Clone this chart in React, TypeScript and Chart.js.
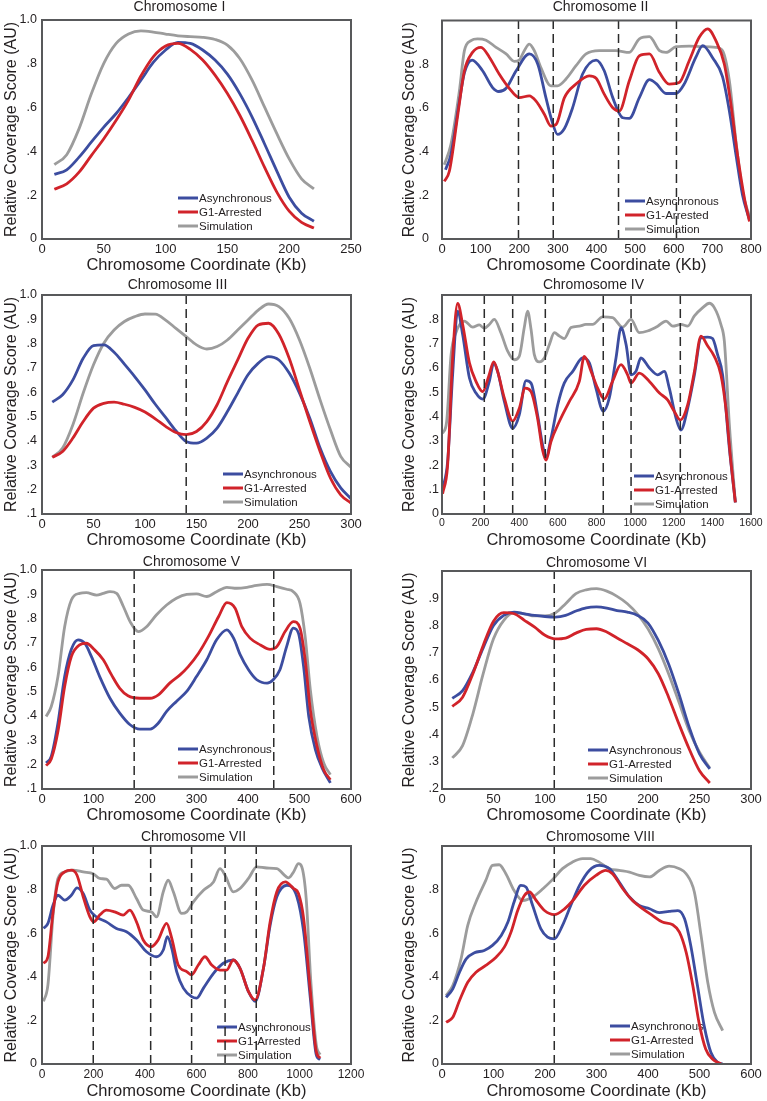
import React, { useEffect, useRef } from "react";
import { Chart, registerables } from "chart.js";

Chart.register(...registerables);
Chart.defaults.font.family = "'Liberation Sans', Arial, sans-serif";

// ---------- DATA ----------
const SERIES_LABELS = ["Asynchronous", "G1-Arrested", "Simulation"];
const X_TITLE = "Chromosome Coordinate (Kb)";
const Y_TITLE = "Relative Coverage Score (AU)";
const TITLES = ["Chromosome I", "Chromosome II", "Chromosome III", "Chromosome IV", "Chromosome V", "Chromosome VI", "Chromosome VII", "Chromosome VIII"];

// Chromosome I (x = 10..220 step 10)
const chr1X = [10, 20, 30, 40, 50, 60, 70, 80, 90, 100, 110, 120, 130, 140, 150, 160, 170, 180, 190, 200, 210, 220];
const chr1Async = [0.295, 0.316, 0.374, 0.443, 0.511, 0.573, 0.646, 0.725, 0.806, 0.863, 0.898, 0.893, 0.863, 0.817, 0.753, 0.664, 0.557, 0.435, 0.31, 0.191, 0.118, 0.081];
const chr1G1 = [0.227, 0.252, 0.305, 0.382, 0.458, 0.542, 0.634, 0.744, 0.832, 0.881, 0.893, 0.866, 0.817, 0.748, 0.664, 0.565, 0.45, 0.328, 0.214, 0.127, 0.076, 0.05];
const chr1Sim = [0.34, 0.385, 0.504, 0.664, 0.802, 0.893, 0.936, 0.95, 0.945, 0.936, 0.928, 0.924, 0.921, 0.911, 0.885, 0.824, 0.725, 0.603, 0.481, 0.366, 0.275, 0.229];
const chr1Dashes: number[] = [];

// Chromosome II ([kb, score])
const chr2Async = [[9, 0.317], [23, 0.386], [45, 0.63], [58, 0.76], [78, 0.819], [105, 0.77], [131, 0.693], [147, 0.675], [166, 0.69], [192, 0.77], [226, 0.847], [248, 0.8], [269, 0.647], [286, 0.532], [299, 0.479], [317, 0.506], [338, 0.6], [364, 0.755], [399, 0.819], [420, 0.77], [442, 0.647], [468, 0.555], [485, 0.552], [511, 0.647], [537, 0.729], [554, 0.712], [580, 0.666], [606, 0.666], [627, 0.709], [657, 0.831], [675, 0.885], [701, 0.828], [726, 0.744], [744, 0.586], [761, 0.387], [778, 0.202], [796, 0.087]];
const chr2G1 = [[6, 0.264], [19, 0.31], [41, 0.57], [58, 0.77], [79, 0.854], [101, 0.877], [123, 0.831], [148, 0.755], [174, 0.69], [200, 0.647], [226, 0.655], [243, 0.632], [265, 0.571], [282, 0.517], [295, 0.523], [317, 0.647], [347, 0.709], [381, 0.747], [399, 0.736], [420, 0.663], [442, 0.601], [459, 0.586], [485, 0.724], [511, 0.839], [537, 0.847], [563, 0.762], [588, 0.709], [614, 0.716], [640, 0.816], [666, 0.923], [688, 0.962], [709, 0.908], [731, 0.8], [748, 0.617], [765, 0.387], [783, 0.187], [796, 0.08]];
const chr2Sim = [[6, 0.34], [23, 0.432], [45, 0.678], [58, 0.862], [75, 0.908], [92, 0.916], [114, 0.91], [140, 0.877], [166, 0.847], [187, 0.813], [200, 0.819], [213, 0.862], [226, 0.892], [239, 0.862], [256, 0.785], [282, 0.701], [299, 0.701], [321, 0.732], [347, 0.793], [373, 0.847], [407, 0.862], [450, 0.862], [485, 0.854], [511, 0.916], [537, 0.926], [563, 0.862], [580, 0.854], [606, 0.88], [640, 0.883], [674, 0.88], [709, 0.877], [726, 0.862], [744, 0.724], [761, 0.448], [778, 0.218], [796, 0.103]];
const chr2Dashes = [198, 288, 457, 607];

// Chromosome III (x = 10..300 step 10)
const chr3X = [10, 20, 30, 40, 50, 60, 70, 80, 90, 100, 110, 120, 130, 140, 150, 160, 170, 180, 190, 200, 210, 220, 230, 240, 250, 260, 270, 280, 290, 300];
const chr3Async = [0.56, 0.59, 0.651, 0.74, 0.792, 0.795, 0.765, 0.716, 0.665, 0.61, 0.551, 0.497, 0.442, 0.398, 0.391, 0.412, 0.453, 0.521, 0.597, 0.672, 0.72, 0.747, 0.733, 0.679, 0.597, 0.494, 0.371, 0.275, 0.207, 0.163];
const chr3G1 = [0.333, 0.357, 0.412, 0.48, 0.535, 0.555, 0.56, 0.551, 0.538, 0.519, 0.491, 0.46, 0.435, 0.426, 0.439, 0.48, 0.549, 0.644, 0.733, 0.822, 0.877, 0.884, 0.839, 0.74, 0.61, 0.48, 0.357, 0.248, 0.179, 0.145];
const chr3Sim = [0.333, 0.371, 0.467, 0.597, 0.713, 0.802, 0.856, 0.891, 0.911, 0.922, 0.921, 0.897, 0.863, 0.829, 0.795, 0.778, 0.788, 0.815, 0.856, 0.897, 0.938, 0.963, 0.952, 0.904, 0.815, 0.699, 0.569, 0.446, 0.337, 0.292];
const chr3Dashes = [140];

// Chromosome IV ([kb, score])
const chr4Async = [[3, 0.103], [29, 0.214], [55, 0.572], [81, 0.834], [107, 0.738], [142, 0.559], [176, 0.497], [211, 0.472], [245, 0.545], [268, 0.621], [288, 0.586], [323, 0.462], [366, 0.352], [400, 0.407], [435, 0.548], [461, 0.538], [495, 0.407], [521, 0.283], [539, 0.234], [564, 0.31], [599, 0.448], [633, 0.538], [677, 0.586], [728, 0.641], [763, 0.621], [797, 0.517], [835, 0.423], [866, 0.476], [901, 0.641], [927, 0.766], [953, 0.697], [979, 0.572], [1004, 0.586], [1030, 0.641], [1074, 0.6], [1117, 0.572], [1151, 0.586], [1177, 0.517], [1212, 0.393], [1237, 0.345], [1272, 0.434], [1307, 0.572], [1341, 0.724], [1376, 0.727], [1401, 0.721], [1427, 0.655], [1453, 0.572], [1488, 0.269], [1519, 0.048]];
const chr4G1 = [[3, 0.083], [29, 0.2], [55, 0.641], [81, 0.865], [107, 0.779], [142, 0.621], [176, 0.545], [211, 0.503], [242, 0.566], [268, 0.625], [288, 0.586], [323, 0.476], [366, 0.382], [400, 0.434], [431, 0.517], [461, 0.503], [495, 0.393], [521, 0.262], [539, 0.221], [564, 0.297], [607, 0.379], [659, 0.462], [711, 0.545], [737, 0.648], [772, 0.586], [806, 0.517], [840, 0.473], [883, 0.545], [927, 0.614], [961, 0.572], [979, 0.538], [1021, 0.579], [1074, 0.545], [1126, 0.497], [1168, 0.469], [1203, 0.421], [1234, 0.386], [1272, 0.448], [1307, 0.586], [1341, 0.731], [1376, 0.69], [1410, 0.648], [1444, 0.572], [1470, 0.434], [1496, 0.214], [1519, 0.048]];
const chr4Sim = [[3, 0.331], [24, 0.379], [47, 0.655], [72, 0.745], [116, 0.793], [159, 0.768], [193, 0.777], [219, 0.763], [245, 0.779], [271, 0.8], [305, 0.745], [340, 0.669], [374, 0.634], [400, 0.648], [426, 0.766], [443, 0.834], [461, 0.759], [478, 0.655], [504, 0.625], [530, 0.641], [556, 0.697], [582, 0.745], [608, 0.731], [633, 0.721], [668, 0.766], [711, 0.772], [745, 0.779], [780, 0.779], [832, 0.81], [883, 0.807], [935, 0.768], [979, 0.8], [1021, 0.745], [1064, 0.752], [1117, 0.772], [1160, 0.793], [1195, 0.772], [1237, 0.779], [1272, 0.772], [1307, 0.814], [1350, 0.848], [1384, 0.866], [1410, 0.848], [1444, 0.779], [1462, 0.71], [1488, 0.366], [1519, 0.048]];
const chr4Dashes = [219, 366, 535, 835, 979, 1234];

// Chromosome V ([kb, score])
const chr5Async = [[8, 0.207], [18, 0.234], [31, 0.371], [44, 0.562], [57, 0.674], [70, 0.713], [83, 0.699], [96, 0.644], [112, 0.562], [132, 0.473], [151, 0.412], [171, 0.364], [190, 0.346], [210, 0.346], [226, 0.371], [242, 0.419], [261, 0.46], [281, 0.501], [300, 0.562], [320, 0.631], [339, 0.713], [359, 0.754], [372, 0.72], [385, 0.651], [401, 0.59], [417, 0.549], [437, 0.535], [449, 0.549], [462, 0.59], [475, 0.685], [488, 0.761], [498, 0.74], [508, 0.603], [518, 0.398], [531, 0.261], [544, 0.186], [560, 0.125]];
const chr5G1 = [[8, 0.196], [18, 0.223], [31, 0.337], [44, 0.521], [57, 0.644], [73, 0.692], [86, 0.699], [102, 0.672], [119, 0.631], [135, 0.569], [151, 0.514], [167, 0.483], [190, 0.473], [210, 0.473], [226, 0.487], [248, 0.535], [268, 0.569], [284, 0.603], [304, 0.658], [323, 0.726], [343, 0.809], [359, 0.866], [375, 0.843], [388, 0.767], [404, 0.72], [424, 0.692], [443, 0.674], [456, 0.685], [472, 0.747], [488, 0.788], [501, 0.761], [511, 0.631], [521, 0.426], [534, 0.275], [547, 0.179], [560, 0.138]];
const chr5Sim = [[8, 0.398], [18, 0.439], [31, 0.562], [44, 0.767], [57, 0.877], [73, 0.904], [86, 0.907], [106, 0.897], [119, 0.904], [132, 0.911], [145, 0.904], [158, 0.85], [171, 0.788], [187, 0.747], [203, 0.767], [222, 0.815], [242, 0.856], [261, 0.884], [281, 0.9], [300, 0.902], [320, 0.891], [339, 0.911], [359, 0.929], [378, 0.925], [398, 0.929], [417, 0.937], [437, 0.941], [456, 0.932], [475, 0.921], [488, 0.911], [501, 0.863], [511, 0.726], [521, 0.508], [534, 0.316], [547, 0.207], [560, 0.159]];
const chr5Dashes = [179, 450];

// Chromosome VI (x = 10..260 step 10)
const chr6X = [10, 20, 30, 40, 50, 60, 70, 80, 90, 100, 110, 120, 130, 140, 150, 160, 170, 180, 190, 200, 210, 220, 230, 240, 250, 260];
const chr6Async = [0.533, 0.561, 0.629, 0.718, 0.8, 0.837, 0.849, 0.843, 0.837, 0.833, 0.831, 0.837, 0.853, 0.865, 0.868, 0.864, 0.855, 0.849, 0.837, 0.809, 0.745, 0.659, 0.549, 0.427, 0.329, 0.274];
const chr6G1 = [0.503, 0.537, 0.623, 0.727, 0.816, 0.847, 0.843, 0.819, 0.794, 0.764, 0.751, 0.754, 0.772, 0.786, 0.788, 0.776, 0.754, 0.733, 0.711, 0.678, 0.623, 0.537, 0.439, 0.347, 0.267, 0.222];
const chr6Sim = [0.314, 0.359, 0.476, 0.623, 0.751, 0.819, 0.847, 0.843, 0.835, 0.835, 0.846, 0.88, 0.917, 0.931, 0.935, 0.926, 0.907, 0.88, 0.841, 0.788, 0.715, 0.623, 0.519, 0.414, 0.335, 0.277];
const chr6Dashes = [109];

// Chromosome VII ([kb, score])
const chr7Async = [[6, 0.622], [23, 0.645], [43, 0.729], [62, 0.774], [88, 0.752], [114, 0.774], [136, 0.808], [160, 0.782], [186, 0.706], [211, 0.675], [250, 0.652], [289, 0.622], [328, 0.607], [367, 0.569], [406, 0.515], [445, 0.492], [471, 0.523], [487, 0.584], [504, 0.53], [523, 0.424], [549, 0.348], [581, 0.309], [601, 0.302], [627, 0.348], [666, 0.416], [704, 0.462], [743, 0.477], [769, 0.439], [802, 0.332], [828, 0.287], [860, 0.439], [886, 0.637], [912, 0.767], [951, 0.82], [990, 0.767], [1016, 0.607], [1042, 0.302], [1065, 0.043], [1080, 0.02]];
const chr7G1 = [[6, 0.462], [23, 0.492], [43, 0.698], [62, 0.835], [88, 0.881], [114, 0.889], [136, 0.866], [160, 0.767], [186, 0.675], [201, 0.652], [224, 0.683], [250, 0.706], [282, 0.698], [315, 0.683], [341, 0.706], [367, 0.652], [393, 0.569], [425, 0.538], [451, 0.569], [484, 0.645], [504, 0.576], [529, 0.454], [562, 0.424], [581, 0.409], [607, 0.454], [633, 0.492], [659, 0.454], [691, 0.431], [717, 0.431], [743, 0.477], [769, 0.439], [802, 0.332], [828, 0.294], [860, 0.439], [886, 0.652], [912, 0.79], [945, 0.835], [977, 0.805], [996, 0.782], [1016, 0.668], [1042, 0.335], [1065, 0.058], [1080, 0.027]];
const chr7Sim = [[6, 0.287], [23, 0.363], [43, 0.683], [62, 0.851], [88, 0.881], [120, 0.889], [160, 0.881], [199, 0.873], [224, 0.851], [250, 0.848], [282, 0.805], [309, 0.82], [335, 0.82], [367, 0.759], [393, 0.706], [425, 0.698], [445, 0.675], [471, 0.79], [490, 0.843], [510, 0.79], [542, 0.691], [562, 0.698], [588, 0.744], [627, 0.797], [666, 0.835], [691, 0.896], [711, 0.866], [743, 0.79], [769, 0.805], [802, 0.851], [834, 0.904], [873, 0.899], [912, 0.896], [958, 0.854], [977, 0.881], [996, 0.919], [1009, 0.904], [1026, 0.759], [1044, 0.378], [1065, 0.088], [1080, 0.043]];
const chr7Dashes = [199, 422, 581, 711, 832];

// Chromosome VIII ([kb, score])
const chr8Async = [[8, 0.306], [21, 0.345], [34, 0.421], [47, 0.482], [63, 0.51], [82, 0.521], [98, 0.544], [115, 0.59], [128, 0.651], [140, 0.743], [153, 0.819], [163, 0.812], [176, 0.727], [192, 0.62], [205, 0.582], [218, 0.574], [234, 0.636], [250, 0.727], [267, 0.819], [286, 0.888], [305, 0.911], [325, 0.896], [344, 0.835], [364, 0.766], [383, 0.727], [403, 0.712], [422, 0.694], [441, 0.7], [458, 0.704], [471, 0.666], [483, 0.544], [496, 0.36], [509, 0.176], [522, 0.054], [535, 0.008], [545, 0]];
const chr8G1 = [[8, 0.191], [21, 0.214], [34, 0.291], [50, 0.375], [66, 0.421], [85, 0.452], [105, 0.49], [121, 0.536], [134, 0.605], [147, 0.704], [160, 0.773], [170, 0.789], [183, 0.75], [199, 0.704], [218, 0.685], [238, 0.712], [257, 0.758], [276, 0.819], [299, 0.865], [318, 0.888], [331, 0.873], [351, 0.804], [370, 0.75], [390, 0.712], [409, 0.681], [428, 0.651], [448, 0.639], [461, 0.605], [474, 0.513], [487, 0.36], [499, 0.191], [512, 0.069], [525, 0.023], [542, 0]];
const chr8Sim = [[8, 0.314], [21, 0.36], [37, 0.482], [50, 0.636], [66, 0.743], [85, 0.842], [98, 0.911], [111, 0.914], [124, 0.873], [140, 0.796], [157, 0.75], [176, 0.766], [196, 0.804], [215, 0.847], [234, 0.896], [253, 0.926], [273, 0.942], [289, 0.942], [305, 0.926], [325, 0.896], [344, 0.888], [364, 0.88], [383, 0.865], [403, 0.858], [422, 0.888], [441, 0.908], [461, 0.896], [474, 0.873], [490, 0.789], [503, 0.59], [516, 0.375], [529, 0.237], [545, 0.153]];
const chr8Dashes = [218];

// Axis ticks
const xTicks1 = [0, 50, 100, 150, 200, 250];
const xTicks2 = [0, 100, 200, 300, 400, 500, 600, 700, 800];
const xTicks3 = [0, 50, 100, 150, 200, 250, 300];
const xTicks4 = [0, 200, 400, 600, 800, 1000, 1200, 1400, 1600];
const xTicks5 = [0, 100, 200, 300, 400, 500, 600];
const xTicks6 = [0, 50, 100, 150, 200, 250, 300];
const xTicks7 = [0, 200, 400, 600, 800, 1000, 1200];
const xTicks8 = [0, 100, 200, 300, 400, 500, 600];

const yTicks1 = [0, 0.2, 0.4, 0.6, 0.8, 1.0];
const yLabels1 = ["0", ".2", ".4", ".6", ".8", "1.0"];
const yTicks2 = [0, 0.2, 0.4, 0.6, 0.8];
const yLabels2 = ["0", ".2", ".4", ".6", ".8"];
const yTicks3 = [0.1, 0.2, 0.3, 0.4, 0.5, 0.6, 0.7, 0.8, 0.9, 1.0];
const yLabels3 = [".1", ".2", ".3", ".4", ".5", ".6", ".7", ".8", ".9", "1.0"];
const yTicks4 = [0, 0.1, 0.2, 0.3, 0.4, 0.5, 0.6, 0.7, 0.8];
const yLabels4 = ["0", ".1", ".2", ".3", ".4", ".5", ".6", ".7", ".8"];
const yTicks6 = [0.2, 0.3, 0.4, 0.5, 0.6, 0.7, 0.8, 0.9];
const yLabels6 = [".2", ".3", ".4", ".5", ".6", ".7", ".8", ".9"];

const xMaxes = [250, 800, 300, 1600, 600, 300, 1200, 600];
const yRanges = [[0, 1], [0, 1], [0.1, 1], [0, 0.9], [0.1, 1], [0.2, 1], [0, 1], [0, 1]];

// ---------- STYLE / LAYOUT ----------
const COLORS = ["#3c4da0", "#d1232a", "#9c9c9c"];
const TEXT = "#231f20";
const FRAME = "#58595b";

const zip = (xs: number[], ys: number[]) => xs.map((x, i) => [x, ys[i]]);

const PANELS = [
  { series: [zip(chr1X, chr1Async), zip(chr1X, chr1G1), zip(chr1X, chr1Sim)], dashes: chr1Dashes, xTicks: xTicks1, yTicks: yTicks1, yLabels: yLabels1 },
  { series: [chr2Async, chr2G1, chr2Sim], dashes: chr2Dashes, xTicks: xTicks2, yTicks: yTicks2, yLabels: yLabels2 },
  { series: [zip(chr3X, chr3Async), zip(chr3X, chr3G1), zip(chr3X, chr3Sim)], dashes: chr3Dashes, xTicks: xTicks3, yTicks: yTicks3, yLabels: yLabels3 },
  { series: [chr4Async, chr4G1, chr4Sim], dashes: chr4Dashes, xTicks: xTicks4, yTicks: yTicks4, yLabels: yLabels4 },
  { series: [chr5Async, chr5G1, chr5Sim], dashes: chr5Dashes, xTicks: xTicks5, yTicks: yTicks3, yLabels: yLabels3 },
  { series: [zip(chr6X, chr6Async), zip(chr6X, chr6G1), zip(chr6X, chr6Sim)], dashes: chr6Dashes, xTicks: xTicks6, yTicks: yTicks6, yLabels: yLabels6 },
  { series: [chr7Async, chr7G1, chr7Sim], dashes: chr7Dashes, xTicks: xTicks7, yTicks: yTicks1, yLabels: yLabels1 },
  { series: [chr8Async, chr8G1, chr8Sim], dashes: chr8Dashes, xTicks: xTicks8, yTicks: yTicks2, yLabels: yLabels2 },
];

const LAYOUT = [
  { col: 0, row: 0, plotTop: 20, titleDx: -17, titleDy: -13, legendDx: 136, legendDy: -41, yTickPad: 5, xTickSize: 13 },
  { col: 1, row: 0, plotTop: 20, titleDx: 4, titleDy: -13, legendDx: 183, legendDy: -38, yTickPad: 13, xTickSize: 13 },
  { col: 0, row: 1, plotTop: 20, titleDx: -19, titleDy: -10, legendDx: 181, legendDy: -40, yTickPad: 5, xTickSize: 13 },
  { col: 1, row: 1, plotTop: 20, titleDx: -3, titleDy: -10, legendDx: 192, legendDy: -38, yTickPad: 3, xTickSize: 10.5 },
  { col: 0, row: 2, plotTop: 20, titleDx: -5, titleDy: -8, legendDx: 136, legendDy: -40, yTickPad: 5, xTickSize: 13 },
  { col: 1, row: 2, plotTop: 21, titleDx: 0, titleDy: -8, legendDx: 146, legendDy: -39, yTickPad: 3, xTickSize: 13 },
  { col: 0, row: 3, plotTop: 21, titleDx: -3, titleDy: -9, legendDx: 175, legendDy: -37, yTickPad: 5, xTickSize: 12 },
  { col: 1, row: 3, plotTop: 21, titleDx: 4, titleDy: -9, legendDx: 168, legendDy: -38, yTickPad: 3, xTickSize: 13 },
];
const COL_X = [0, 383];
const COL_W = [383, 384];
const ROW_Y = [0, 275, 550, 825];
const ROW_H = [275, 275, 275, 276];
const PLOT_BOTTOM = 239;
const Y_AXIS_W = [42, 59];
const RIGHT_PAD = [32, 16];
const Y_TITLE_PAD = [2.4, 17.4];

const decorPlugin = {
  id: "panelDecor",
  beforeDatasetsDraw(chart: any, _args: any, opts: any) {
    const { ctx, chartArea: ca } = chart;
    ctx.save();
    ctx.font = "11.5px 'Liberation Sans', Arial, sans-serif";
    ctx.textBaseline = "middle";
    ctx.textAlign = "left";
    const items = chart.data.datasets.filter((d: any) => SERIES_LABELS.includes(d.label));
    items.forEach((d: any, i: number) => {
      const x = ca.left + opts.legendDx;
      const y = ca.bottom + opts.legendDy + i * 14;
      ctx.strokeStyle = d.borderColor;
      ctx.lineWidth = 3;
      ctx.beginPath();
      ctx.moveTo(x, y);
      ctx.lineTo(x + 20, y);
      ctx.stroke();
      ctx.fillStyle = TEXT;
      ctx.fillText(d.label, x + 21, y + 0.5);
    });
    ctx.restore();
  },
  afterDraw(chart: any, _args: any, opts: any) {
    const { ctx, chartArea: ca } = chart;
    ctx.save();
    ctx.strokeStyle = FRAME;
    ctx.lineWidth = 2;
    ctx.strokeRect(ca.left, ca.top, ca.right - ca.left, ca.bottom - ca.top);
    ctx.font = "14px 'Liberation Sans', Arial, sans-serif";
    ctx.fillStyle = TEXT;
    ctx.textAlign = "center";
    ctx.textBaseline = "middle";
    ctx.fillText(opts.title, (ca.left + ca.right) / 2 + opts.titleDx, ca.top + opts.titleDy);
    ctx.restore();
  },
};

function Panel({ index }: { index: number }) {
  const ref = useRef<HTMLCanvasElement>(null);
  const p = PANELS[index];
  const L = LAYOUT[index];
  const w = COL_W[L.col];
  const h = ROW_H[L.row];
  const [yMin, yMax] = yRanges[index];

  useEffect(() => {
    if (!ref.current) return;
    const seriesSets = p.series.map((pts, i) => ({
      label: SERIES_LABELS[i],
      data: pts.map(([x, y]) => ({ x, y })),
      borderColor: COLORS[i],
      backgroundColor: COLORS[i],
      borderWidth: 2.8,
      pointRadius: 0,
      cubicInterpolationMode: "monotone" as const,
      order: i === 0 ? 2 : i === 1 ? 1 : 3,
    }));
    const dashSets = p.dashes.map((x) => ({
      label: "",
      data: [{ x, y: yMin }, { x, y: yMax }],
      borderColor: "#2b2b2b",
      borderWidth: 1.5,
      borderDash: [9, 5],
      pointRadius: 0,
      tension: 0,
      order: 0,
    }));
    const chart = new Chart(ref.current, {
      type: "line",
      data: { datasets: [...seriesSets, ...dashSets] as any },
      plugins: [decorPlugin],
      options: {
        responsive: false,
        animation: false,
        devicePixelRatio: 1,
        layout: { padding: { top: L.plotTop, right: RIGHT_PAD[L.col], left: 0, bottom: 0 } },
        plugins: {
          legend: { display: false },
          tooltip: { enabled: false },
          panelDecor: { title: TITLES[index], titleDx: L.titleDx, titleDy: L.titleDy, legendDx: L.legendDx, legendDy: L.legendDy },
        } as any,
        scales: {
          x: {
            type: "linear",
            min: 0,
            max: xMaxes[index],
            afterBuildTicks: (s: any) => { s.ticks = p.xTicks.map((v) => ({ value: v })); },
            afterFit: (s: any) => { s.height = h - PLOT_BOTTOM; },
            ticks: { autoSkip: false, maxRotation: 0, padding: 3, color: TEXT, font: { size: L.xTickSize }, callback: (_v: any, i: number) => String(p.xTicks[i]) },
            grid: { display: false, drawTicks: false },
            border: { display: false },
            title: { display: true, text: X_TITLE, color: TEXT, font: { size: 16.5 }, padding: { top: 0, bottom: 0 } },
          },
          y: {
            type: "linear",
            min: yMin,
            max: yMax,
            afterBuildTicks: (s: any) => { s.ticks = p.yTicks.map((v) => ({ value: v })); },
            afterFit: (s: any) => { s.width = Y_AXIS_W[L.col]; },
            ticks: { autoSkip: false, padding: L.yTickPad, color: TEXT, font: { size: 12.5 }, callback: (_v: any, i: number) => p.yLabels[i] },
            grid: { display: false, drawTicks: false },
            border: { display: false },
            title: { display: true, text: Y_TITLE, color: TEXT, font: { size: 16 }, padding: { top: Y_TITLE_PAD[L.col], bottom: 0 } },
          },
        },
      } as any,
    });
    return () => chart.destroy();
  }, [index]);

  return (
    <canvas
      ref={ref}
      width={w}
      height={h}
      style={{ position: "absolute", left: COL_X[L.col], top: ROW_Y[L.row], width: w, height: h }}
    />
  );
}

export default function App() {
  return (
    <div style={{ position: "absolute", left: 0, top: 0, width: 767, height: 1101, background: "#fff" }}>
      {PANELS.map((_, i) => (
        <Panel key={i} index={i} />
      ))}
    </div>
  );
}
